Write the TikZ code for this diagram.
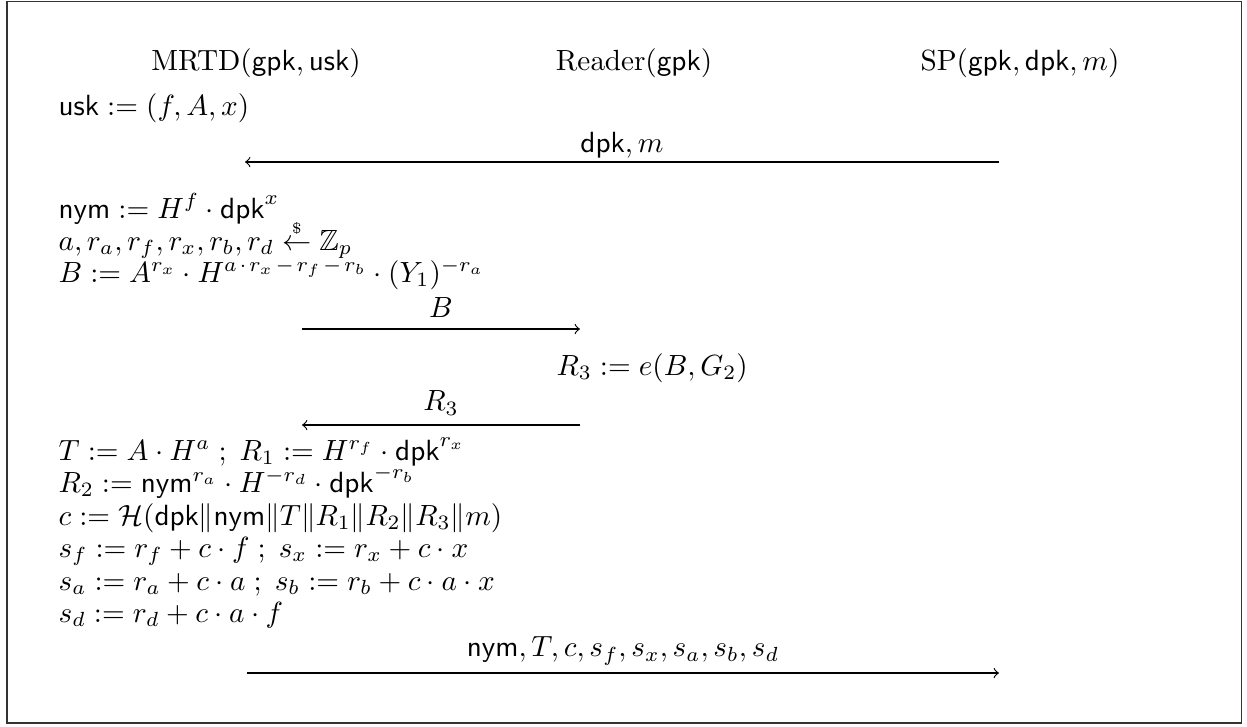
\documentclass[tikz,border=0pt]{standalone}
\usepackage{amsmath,amssymb}
\usetikzlibrary{positioning}
\tikzset{
  hdr/.style={anchor=base, inner sep=0pt},
  cmp/.style={anchor=base west, inner sep=0pt},
  msg/.style={->, line width=0.4pt},
  lbl/.style={midway, anchor=base, yshift=3.1pt, inner sep=0pt},
}
\newcommand{\sv}[1]{\mathsf{#1}}
\newcommand{\sop}[1]{\mkern2mu#1\mkern2mu}

\begin{document}
\begin{tikzpicture}[x=0.3425pt, y=-0.3425pt]
  \useasboundingbox (0,0) rectangle (1247,726);
  \coordinate (frameNW) at (7,1.5);
  \coordinate (frameSE) at (1241.5,723);
  \draw[line width=0.5pt, black!80] (frameNW) rectangle (frameSE);

  % parties
  \node[hdr] (mrtd) at (256,70) {$\mathrm{MRTD}(\sv{gpk},\sv{usk})$};
  \node[hdr] (reader) at (634,70) {$\mathrm{Reader}(\sv{gpk})$};
  \node[hdr] (sp) at (1020,70) {$\mathrm{SP}(\sv{gpk},\sv{dpk},m)$};

  % MRTD setup
  \node[cmp] (usk) at (58,115) {$\sv{usk} := (f,A,x)$};

  \coordinate (dpkL) at (245,162);
  \coordinate (dpkR) at (999,162);
  \draw[msg] (dpkR) -- node[lbl]{$\sv{dpk},m$} (dpkL);

  \node[cmp] (nym) at (58,218) {$\sv{nym} := H^f\cdot\sv{dpk}^x$};
  \node[cmp] (rand) at (58,250)
    {$a,r_a,r_f,r_x,r_b,r_d \overset{\scriptscriptstyle\$}{\leftarrow} \mathbb{Z}_p$};
  \node[cmp] (bdef) at (58,282)
    {$B := A^{r_x}\cdot H^{a\sop{\cdot}r_x\sop{-}r_f\sop{-}r_b}\cdot (Y_1)^{-r_a}$};

  \coordinate (bL) at (302,329);
  \coordinate (bR) at (580,329);
  \draw[msg] (bL) -- node[lbl, yshift=1pt]{$B$} (bR);

  % Reader pairing
  \node[cmp] (pair) at (556,375) {$R_3 := e(B,G_2)$};

  \coordinate (rL) at (302,425);
  \coordinate (rR) at (580,425);
  \draw[msg] (rR) -- node[lbl, yshift=1.8pt]{$R_3$} (rL);

  % MRTD proof
  \node[cmp] (tdef) at (58,460)
    {$T := A\cdot H^a\;;\; R_1 := H^{r_f}\cdot\sv{dpk}^{r_x}$};
  \node[cmp] (r2def) at (58,492)
    {$R_2 := \sv{nym}^{r_a}\cdot H^{-r_d}\cdot\sv{dpk}^{-r_b}$};
  \node[cmp] (hash) at (58,525)
    {$c := \mathcal{H}(\sv{dpk}\|\sv{nym}\|T\|R_1\|R_2\|R_3\|m)$};
  \node[cmp] (sfx) at (58,557)
    {$s_f := r_f + c\cdot f\;;\; s_x := r_x + c\cdot x$};
  \node[cmp] (sab) at (58,590)
    {$s_a := r_a + c\cdot a\;;\; s_b := r_b + c\cdot a\cdot x$};
  \node[cmp] (sd) at (58,622) {$s_d := r_d + c\cdot a\cdot f$};

  \coordinate (pfL) at (247,673);
  \coordinate (pfR) at (999,673);
  \draw[msg] (pfL) -- node[lbl, yshift=2.4pt]{$\sv{nym},T,c,s_f,s_x,s_a,s_b,s_d$} (pfR);
\end{tikzpicture}
\end{document}
